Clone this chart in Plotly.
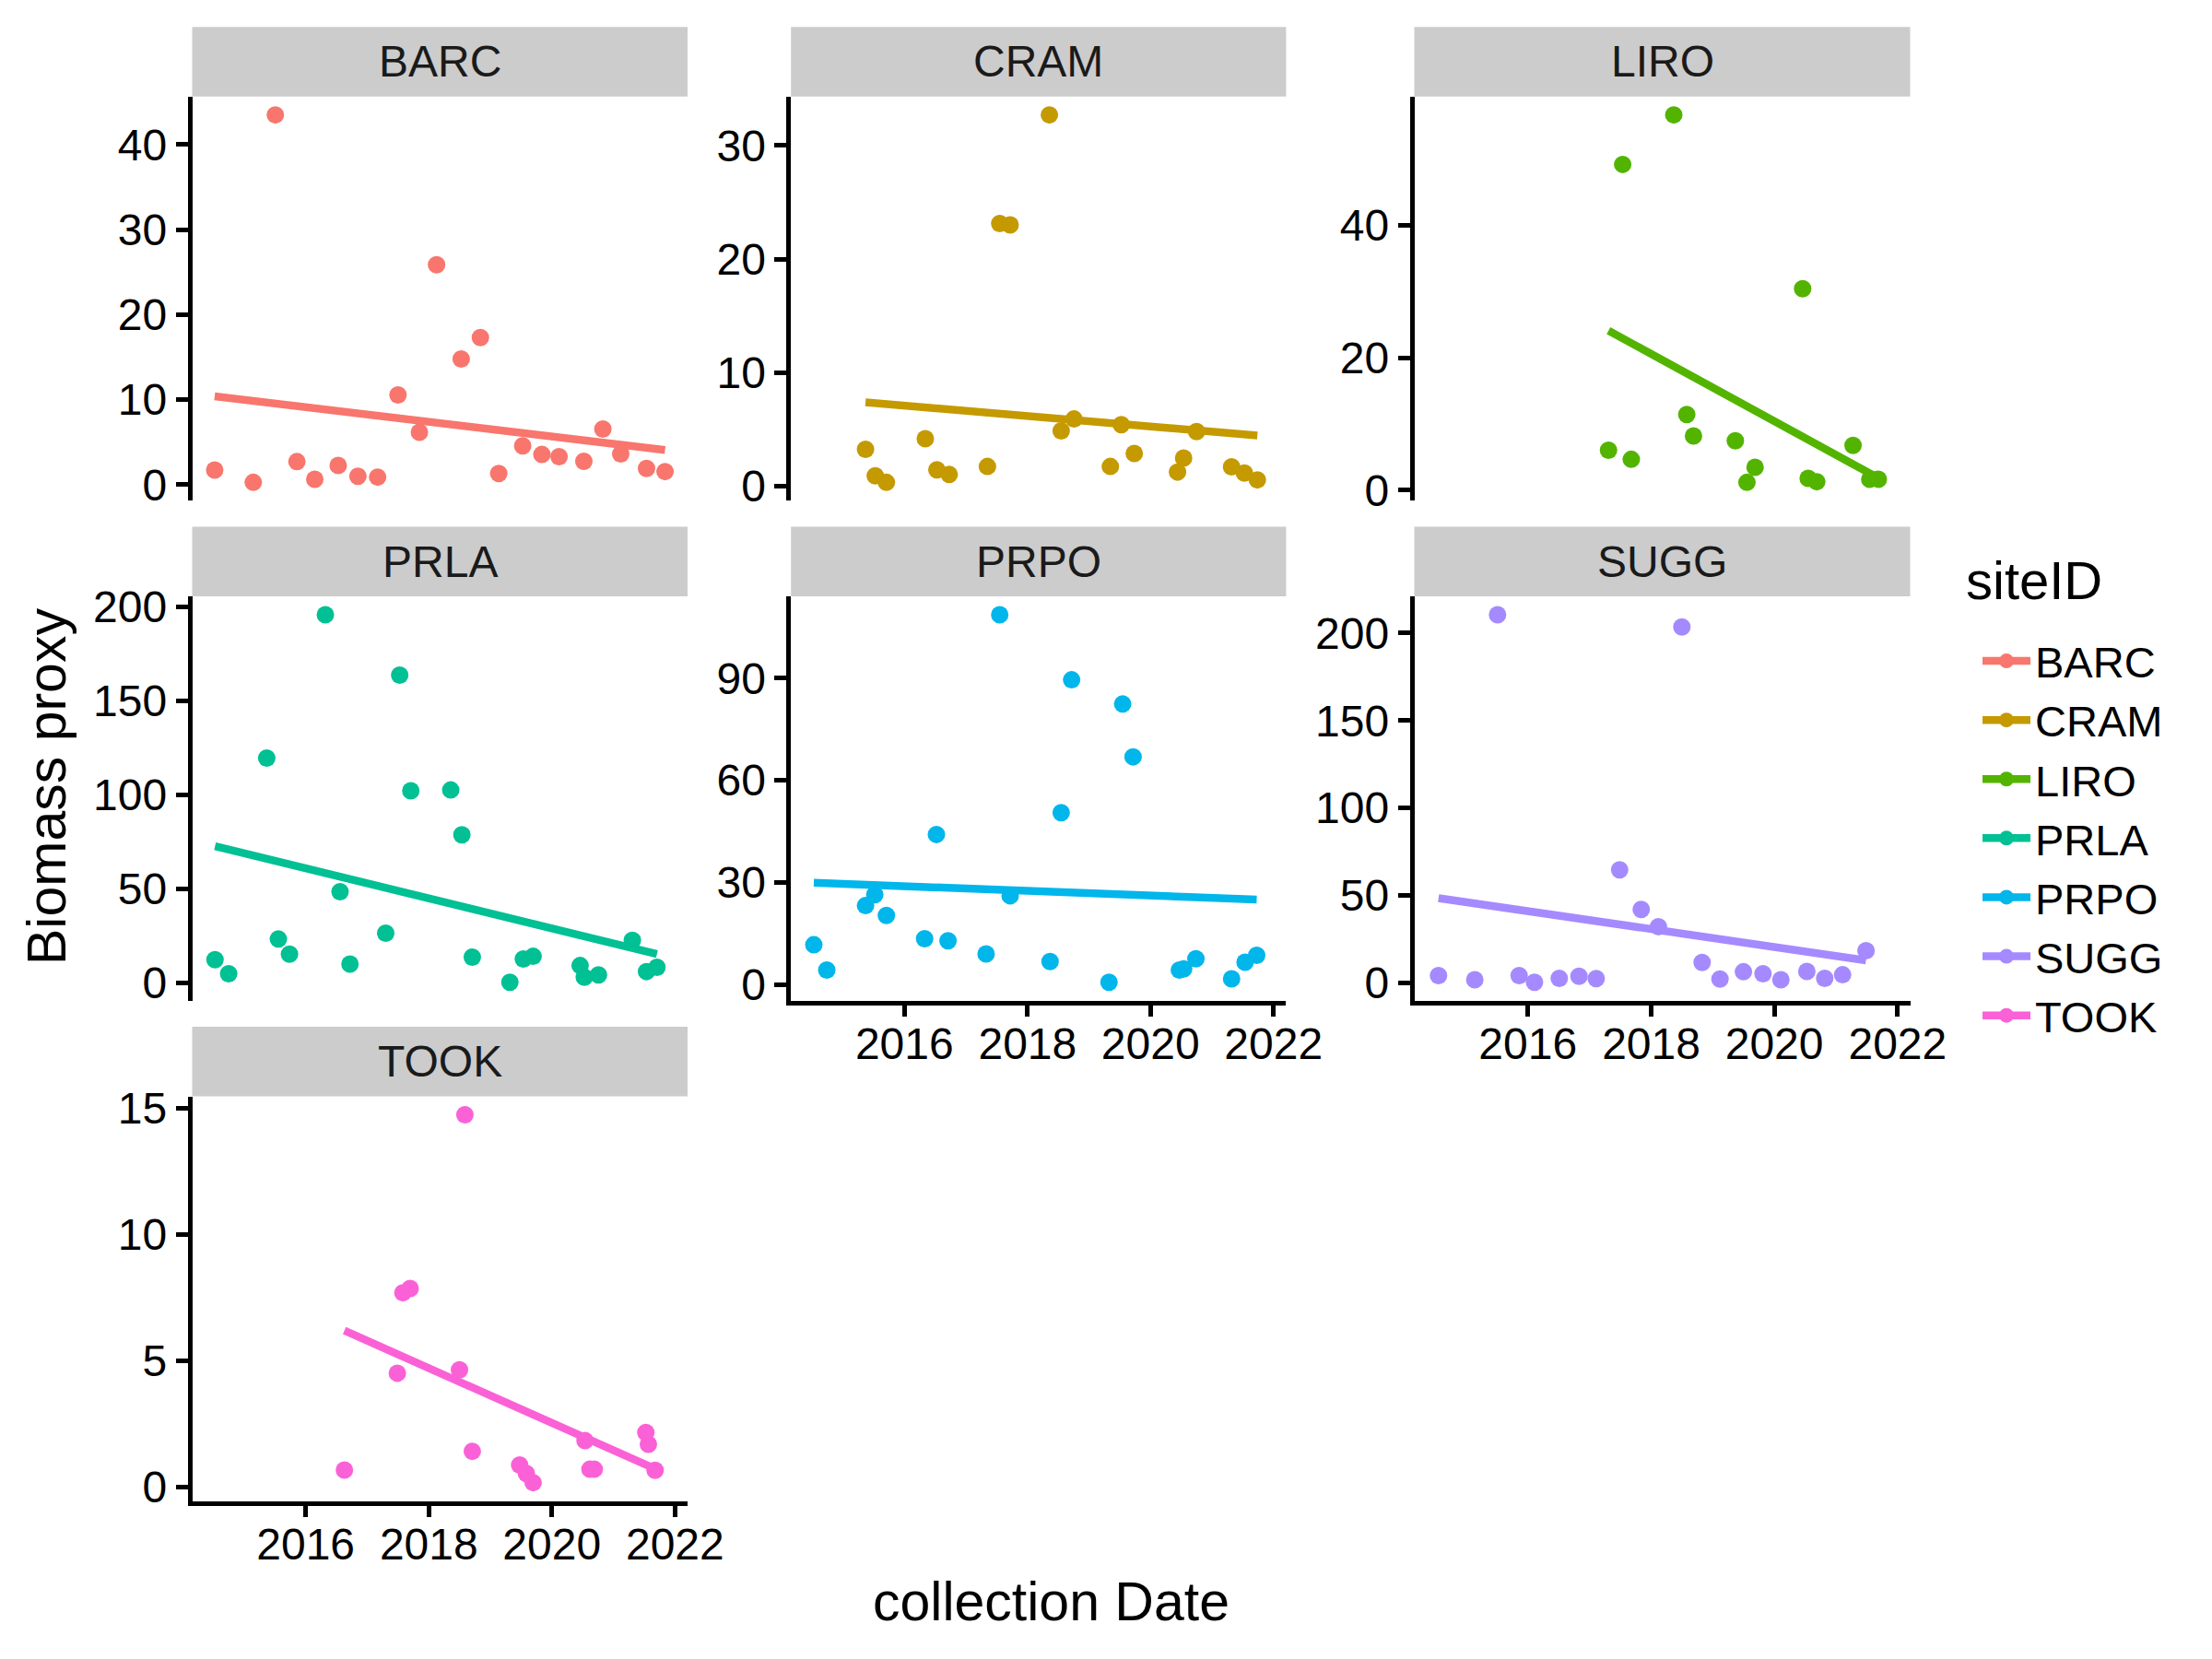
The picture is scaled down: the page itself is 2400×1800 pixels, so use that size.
import numpy as np
import pandas as pd
import plotly.graph_objects as go

# ---------------- data ----------------
SITES = ["BARC", "CRAM", "LIRO", "PRLA", "PRPO", "SUGG", "TOOK"]
COLORS = ["#F8766D", "#C49A00", "#53B400", "#00C094", "#00B6EB", "#A58AFF", "#FB61D7"]

barc_dates = ["2014-07-10", "2015-02-24", "2015-07-05", "2015-11-10", "2016-02-24", "2016-07-12",
              "2016-11-06", "2017-03-03", "2017-07-02", "2017-11-06", "2018-02-16", "2018-07-12",
              "2018-11-03", "2019-02-20", "2019-07-12", "2019-11-03", "2020-02-13", "2020-07-09",
              "2020-10-30", "2021-02-13", "2021-07-16", "2021-11-03"]
barc_values = [1.71, 0.26, 43.5, 2.7, 0.62, 2.26, 0.98, 0.88, 10.54, 6.16, 25.86, 14.77,
               17.29, 1.31, 4.56, 3.54, 3.28, 2.74, 6.53, 3.61, 1.90, 1.53]

cram_dates = ["2015-05-15", "2015-07-12", "2015-09-16", "2016-05-04", "2016-07-12", "2016-09-23",
              "2017-05-08", "2017-07-20", "2017-09-20", "2018-05-11", "2018-07-20", "2018-10-04",
              "2019-05-08", "2019-07-12", "2019-09-27", "2020-06-10", "2020-07-16", "2020-10-01",
              "2021-04-27", "2021-07-12", "2021-09-27"]
cram_values = [3.24, 0.91, 0.33, 4.18, 1.43, 1.02, 1.73, 23.13, 23.0, 32.69, 4.86, 5.91,
               1.73, 5.41, 2.88, 1.24, 2.47, 4.81, 1.70, 1.15, 0.55]

liro_dates = ["2017-04-23", "2017-07-16", "2017-09-05", "2018-05-15", "2018-07-31", "2018-09-09",
              "2019-05-15", "2019-07-23", "2019-09-09", "2020-06-17", "2020-07-20", "2020-09-09",
              "2021-04-12", "2021-07-20", "2021-09-09"]
liro_values = [6.05, 49.19, 4.67, 56.67, 11.43, 8.19, 7.48, 1.19, 3.48, 30.43, 1.81, 1.29,
               6.76, 1.67, 1.67]

prla_dates = ["2014-07-12", "2014-10-01", "2015-05-15", "2015-07-23", "2015-09-27", "2016-04-27",
              "2016-07-23", "2016-09-20", "2017-04-20", "2017-07-12", "2017-09-16", "2018-05-11",
              "2018-07-16", "2018-09-16", "2019-04-27", "2019-07-16", "2019-09-12", "2020-06-17",
              "2020-07-12", "2020-10-04", "2021-04-23", "2021-07-16", "2021-09-16"]
prla_values = [12.3, 4.8, 119.6, 23.3, 15.3, 195.8, 48.5, 10.0, 26.4, 163.7, 102.2, 102.6,
               78.8, 13.7, 0.3, 12.7, 14.1, 9.2, 3.0, 4.2, 22.6, 6.0, 8.3]

prpo_dates = ["2014-07-12", "2014-09-27", "2015-05-15", "2015-07-09", "2015-09-16", "2016-04-30",
              "2016-07-09", "2016-09-16", "2017-04-30", "2017-07-20", "2017-09-20", "2018-05-15",
              "2018-07-20", "2018-09-20", "2019-04-30", "2019-07-20", "2019-09-20", "2020-06-21",
              "2020-07-16", "2020-09-27", "2021-04-27", "2021-07-16", "2021-09-23"]
prpo_values = [11.7, 4.3, 23.2, 26.4, 20.3, 13.5, 44.1, 12.9, 9.0, 108.6, 26.1, 6.8,
               50.5, 89.5, 0.7, 82.4, 66.9, 4.3, 4.6, 7.6, 1.7, 6.6, 8.6]

sugg_dates = ["2014-07-20", "2015-02-20", "2015-07-05", "2015-11-10", "2016-02-09", "2016-07-05",
              "2016-10-30", "2017-02-09", "2017-06-28", "2017-11-03", "2018-02-13", "2018-07-02",
              "2018-10-30", "2019-02-13", "2019-07-02", "2019-10-26", "2020-02-09", "2020-07-12",
              "2020-10-26", "2021-02-09", "2021-06-28"]
sugg_values = [4.2, 1.9, 210.4, 4.2, 0.4, 2.6, 3.8, 2.5, 64.7, 42.0, 32.2, 203.4,
               11.7, 2.3, 6.4, 5.3, 1.9, 6.6, 2.6, 4.7, 18.4]

took_dates = ["2016-08-18", "2017-06-28", "2017-07-31", "2017-09-12", "2018-07-02", "2018-08-03",
              "2018-09-16", "2019-06-24", "2019-08-03", "2019-09-12", "2020-07-16", "2020-08-14",
              "2020-09-09", "2021-07-12", "2021-07-27", "2021-09-05"]
took_values = [0.68, 4.51, 7.69, 7.86, 4.64, 14.73, 1.42, 0.88, 0.54, 0.18, 1.84, 0.71,
               0.71, 2.16, 1.70, 0.67]

barc_yticks = [0, 10, 20, 30, 40]
cram_yticks = [0, 10, 20, 30]
liro_yticks = [0, 20, 40]
prla_yticks = [0, 50, 100, 150, 200]
prpo_yticks = [0, 30, 60, 90]
sugg_yticks = [0, 50, 100, 150, 200]
took_yticks = [0, 5, 10, 15]

x_tick_vals = ["2016-01-01", "2018-01-01", "2020-01-01", "2022-01-01"]
x_tick_text = ["2016", "2018", "2020", "2022"]

site_dates = {"BARC": barc_dates, "CRAM": cram_dates, "LIRO": liro_dates, "PRLA": prla_dates,
              "PRPO": prpo_dates, "SUGG": sugg_dates, "TOOK": took_dates}
site_values = {"BARC": barc_values, "CRAM": cram_values, "LIRO": liro_values, "PRLA": prla_values,
               "PRPO": prpo_values, "SUGG": sugg_values, "TOOK": took_values}
site_yticks = {"BARC": barc_yticks, "CRAM": cram_yticks, "LIRO": liro_yticks, "PRLA": prla_yticks,
               "PRPO": prpo_yticks, "SUGG": sugg_yticks, "TOOK": took_yticks}

# ---------------- layout geometry (pixels) ----------------
W, H = 2400, 1800
COL_PX = [(208.5, 746.0), (858.2, 1395.4), (1534.5, 2072.5)]
ROW_PX = [(104.7, 543.3), (647.1, 1085.7), (1189.6, 1628.6)]
STRIP_H = 75.5
PANEL_POS = {"BARC": (0, 0), "CRAM": (0, 1), "LIRO": (0, 2), "PRLA": (1, 0),
             "PRPO": (1, 1), "SUGG": (1, 2), "TOOK": (2, 0)}
X_AXIS_SHOWN = {"PRPO", "SUGG", "TOOK"}

FONT = "Liberation Sans, Arial, Helvetica, sans-serif"
TICK_SIZE = 48
TITLE_SIZE = 59
AX_LW = 4.5


def px_x(v):
    return v / W


def px_y(v):
    return 1 - v / H


all_dates = pd.to_datetime(sum(site_dates.values(), []))
dmin, dmax = all_dates.min(), all_dates.max()
dpad = (dmax - dmin) * 0.05
x_range = [str(dmin - dpad), str(dmax + dpad)]

fig = go.Figure()
shapes = []
annotations = []
layout_axes = {}

for i, site in enumerate(SITES):
    n = i + 1
    xa = "x" if n == 1 else f"x{n}"
    ya = "y" if n == 1 else f"y{n}"
    color = COLORS[i]
    d = pd.to_datetime(site_dates[site])
    v = np.array(site_values[site], dtype=float)

    # linear fit (lm) over the site's date range
    t = np.array((d - pd.Timestamp("1970-01-01")).days, dtype=float)
    slope, intercept = np.polyfit(t, v, 1)
    tx = np.linspace(t.min(), t.max(), 80)
    fx = pd.to_datetime(tx, unit="D")

    fig.add_trace(go.Scatter(x=d, y=v, mode="markers", xaxis=xa, yaxis=ya,
                             marker=dict(color=color, size=19, line=dict(width=0)),
                             showlegend=False, cliponaxis=False, hoverinfo="x+y"))
    fig.add_trace(go.Scatter(x=fx, y=slope * tx + intercept, mode="lines", xaxis=xa, yaxis=ya,
                             line=dict(color=color, width=8.5), showlegend=False,
                             cliponaxis=False, hoverinfo="skip"))

    r, c = PANEL_POS[site]
    x0, x1 = COL_PX[c]
    y0, y1 = ROW_PX[r]

    vmin, vmax = v.min(), v.max()
    vpad = (vmax - vmin) * 0.05
    yr = [vmin - vpad, vmax + vpad]

    xkey = "xaxis" if n == 1 else f"xaxis{n}"
    ykey = "yaxis" if n == 1 else f"yaxis{n}"
    xcfg = dict(domain=[px_x(x0), px_x(x1)], anchor=ya, type="date", range=x_range,
                showgrid=False, zeroline=False, automargin=False)
    if site in X_AXIS_SHOWN:
        xcfg.update(showline=True, linecolor="black", linewidth=AX_LW, ticks="outside",
                    ticklen=13, tickwidth=AX_LW, tickcolor="black",
                    tickvals=x_tick_vals, ticktext=x_tick_text, ticklabelstandoff=-12,
                    tickfont=dict(family=FONT, size=TICK_SIZE, color="black"))
    else:
        xcfg.update(showline=False, showticklabels=False, ticks="")
    ycfg = dict(domain=[px_y(y1), px_y(y0)], anchor=xa, range=yr, showgrid=False,
                zeroline=False, showline=True, linecolor="black", linewidth=AX_LW,
                ticks="outside", ticklen=13, tickwidth=AX_LW, tickcolor="black",
                tickvals=site_yticks[site], ticktext=[str(k) for k in site_yticks[site]],
                tickfont=dict(family=FONT, size=TICK_SIZE, color="black"),
                automargin=False)
    layout_axes[xkey] = xcfg
    layout_axes[ykey] = ycfg

    # facet strip
    shapes.append(dict(type="rect", xref="paper", yref="paper",
                       x0=px_x(x0), x1=px_x(x1), y0=px_y(y0), y1=px_y(y0 - STRIP_H),
                       fillcolor="#CCCCCC", line=dict(width=0), layer="below"))
    annotations.append(dict(text=site, xref="paper", yref="paper",
                            x=px_x((x0 + x1) / 2), y=px_y(y0 - STRIP_H / 2),
                            xanchor="center", yanchor="middle", showarrow=False,
                            font=dict(family=FONT, size=TICK_SIZE, color="#1A1A1A")))

# legend entries (line + point key, as in ggplot)
for i, site in enumerate(SITES):
    fig.add_trace(go.Scatter(x=[None], y=[None], mode="lines+markers", name=site,
                             line=dict(color=COLORS[i], width=8.5),
                             marker=dict(color=COLORS[i], size=19),
                             showlegend=True, xaxis="x", yaxis="y"))

annotations.append(dict(text="collection Date", xref="paper", yref="paper",
                        x=px_x(1140.5), y=px_y(1738), xanchor="center", yanchor="middle",
                        showarrow=False, font=dict(family=FONT, size=TITLE_SIZE, color="black")))
annotations.append(dict(text="Biomass proxy", xref="paper", yref="paper",
                        x=px_x(51), y=px_y(854), xanchor="center", yanchor="middle",
                        textangle=-90, showarrow=False,
                        font=dict(family=FONT, size=TITLE_SIZE, color="black")))
annotations.append(dict(text="siteID", xref="paper", yref="paper",
                        x=px_x(2131), y=px_y(629), xanchor="left", yanchor="middle",
                        showarrow=False, font=dict(family=FONT, size=58, color="black")))

fig.update_layout(
    width=W, height=H,
    margin=dict(l=0, r=0, t=0, b=0, pad=0, autoexpand=False),
    paper_bgcolor="white", plot_bgcolor="white",
    font=dict(family=FONT, color="black"),
    shapes=shapes, annotations=annotations,
    legend=dict(font=dict(family=FONT, size=47),
                x=px_x(2146), y=px_y(680), xanchor="left", yanchor="top",
                itemwidth=52, bgcolor="rgba(0,0,0,0)", borderwidth=0, tracegroupgap=0),
    **layout_axes,
)

fig.write_html("out.html", config={"displayModeBar": False},
               post_script="document.body.style.margin='0px';")
